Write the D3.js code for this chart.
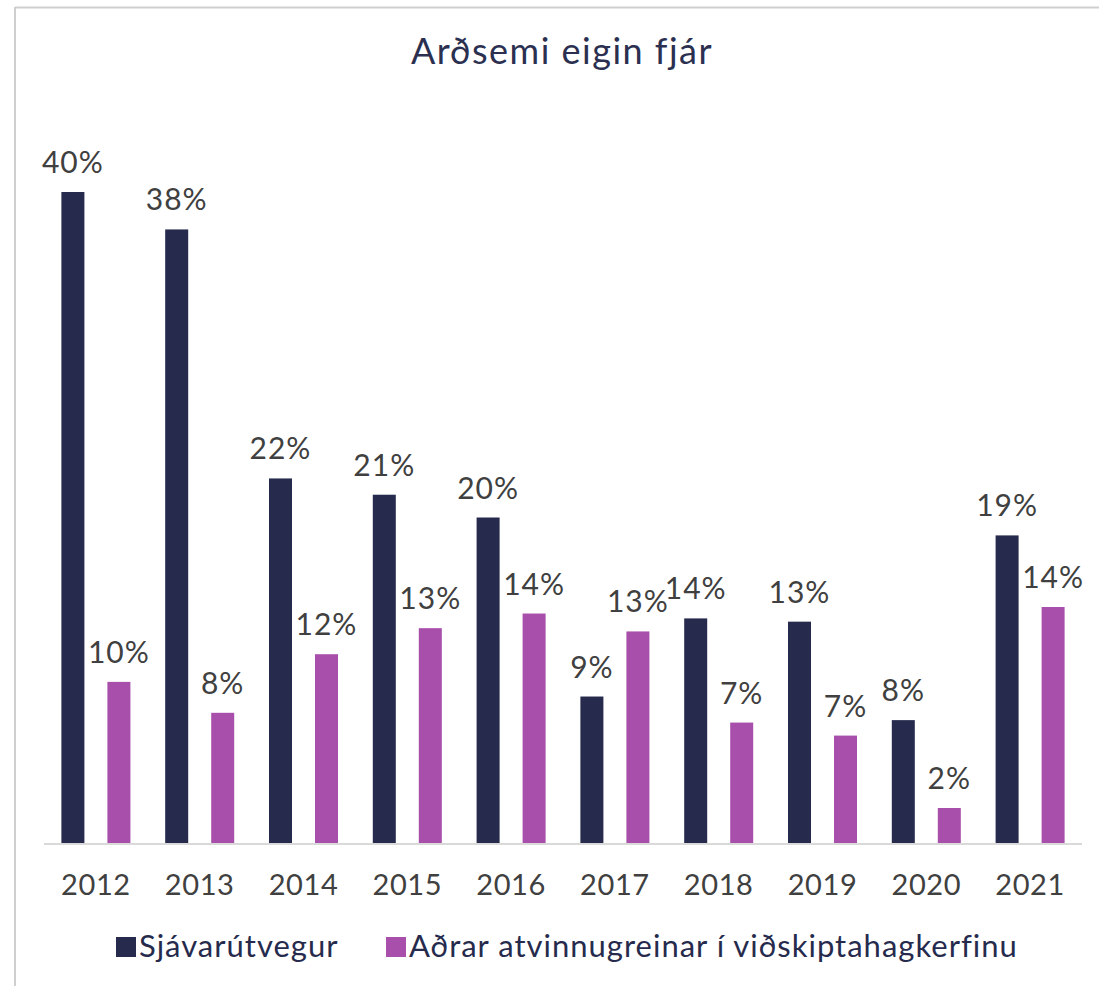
<!DOCTYPE html>
<html lang="is">
<head>
<meta charset="utf-8">
<script src="https://cdn.jsdelivr.net/npm/d3@7"></script>
<style>
  body { margin: 0; background: #fff; }
  text { font-family: Lato, "Open Sans", sans-serif; }
</style>
</head>
<body>
<div id="chart"></div>
<script>
// data
var years = ["2012", "2013", "2014", "2015", "2016", "2017", "2018", "2019", "2020", "2021"];
var seriesNames = ["Sjávarútvegur", "Aðrar atvinnugreinar í viðskiptahagkerfinu"];
var fishing = [40, 37.7, 22.4, 21.4, 20.0, 9.0, 13.8, 13.6, 7.55, 18.9];
var others = [9.9, 8.0, 11.6, 13.2, 14.1, 13.0, 7.4, 6.6, 2.15, 14.5];
var fishingLabels = ["40%", "38%", "22%", "21%", "20%", "9%", "14%", "13%", "8%", "19%"];
var othersLabels = ["10%", "8%", "12%", "13%", "14%", "13%", "7%", "7%", "2%", "14%"];

var colors = ["#262b4d", "#a84fab"];

var width = 1099, height = 986;
var svg = d3.select("#chart").append("svg")
  .attr("width", width)
  .attr("height", height);

// frame lines
svg.append("line").attr("x1", 15).attr("x2", width).attr("y1", 7.5).attr("y2", 7.5)
  .style("stroke", "#cfcfcf").style("stroke-width", 2);
svg.append("line").attr("x1", 15).attr("x2", 15).attr("y1", 7).attr("y2", height)
  .style("stroke", "#cfcfcf").style("stroke-width", 2);

// scales
var x = d3.scaleBand().domain(years).range([44, 1082]);
var xs = d3.scaleBand().domain([0, 1]).range([0, x.bandwidth()])
  .paddingInner(0.5).paddingOuter(0.378);
var y = d3.scaleLinear().domain([0, 40]).range([843, 192]);

// title
svg.append("text")
  .attr("x", 562)
  .attr("y", 64)
  .attr("text-anchor", "middle")
  .style("font-size", "36px")
  .style("letter-spacing", "1.5px")
  .style("fill", "#2b3050")
  .text("Arðsemi eigin fjár");

// baseline
svg.append("line")
  .attr("x1", 44).attr("x2", 1082)
  .attr("y1", y(0) + 1).attr("y2", y(0) + 1)
  .style("stroke", "#d9d9d9").style("stroke-width", 2);

var rows = years.map(function(yr, i) {
  return [
    { year: yr, s: 0, v: fishing[i], label: fishingLabels[i] },
    { year: yr, s: 1, v: others[i], label: othersLabels[i] }
  ];
});

var groups = svg.selectAll("g.year")
  .data(rows)
  .enter().append("g")
  .attr("class", "year")
  .attr("transform", function(d) { return "translate(" + x(d[0].year) + ",0)"; });

groups.selectAll("rect")
  .data(function(d) { return d; })
  .enter().append("rect")
  .attr("x", function(d) { return xs(d.s); })
  .attr("width", xs.bandwidth())
  .attr("y", function(d) { return y(d.v); })
  .attr("height", function(d) { return y(0) - y(d.v); })
  .style("fill", function(d) { return colors[d.s]; });

groups.selectAll("text")
  .data(function(d) { return d; })
  .enter().append("text")
  .attr("x", function(d) { return xs(d.s) + xs.bandwidth() / 2; })
  .attr("y", function(d) { return y(d.v) - 19; })
  .attr("text-anchor", "middle")
  .style("font-size", "30px")
  .style("letter-spacing", "1px")
  .style("fill", "#404040")
  .text(function(d) { return d.label; });

// x axis labels
var xAxis = d3.axisBottom(x).tickSize(0).tickPadding(0);
var xg = svg.append("g")
  .attr("transform", "translate(0," + 895 + ")")
  .call(xAxis);
xg.select(".domain").remove();
xg.selectAll("text")
  .attr("dy", 0)
  .attr("y", 0)
  .style("font-family", "Lato, sans-serif")
  .style("font-size", "29px")
  .style("letter-spacing", "0.6px")
  .style("fill", "#404040");

// legend
var legendX = [116, 386];
var legend = svg.selectAll("g.legend")
  .data(seriesNames)
  .enter().append("g")
  .attr("class", "legend")
  .attr("transform", function(d, i) { return "translate(" + legendX[i] + ",937)"; });
legend.append("rect")
  .attr("width", 20).attr("height", 20)
  .style("fill", function(d, i) { return colors[i]; });
legend.append("text")
  .attr("x", 23).attr("y", 20)
  .style("font-size", "31px")
  .style("letter-spacing", "1px")
  .style("fill", "#262b4d")
  .text(function(d) { return d; });
</script>
</body>
</html>
